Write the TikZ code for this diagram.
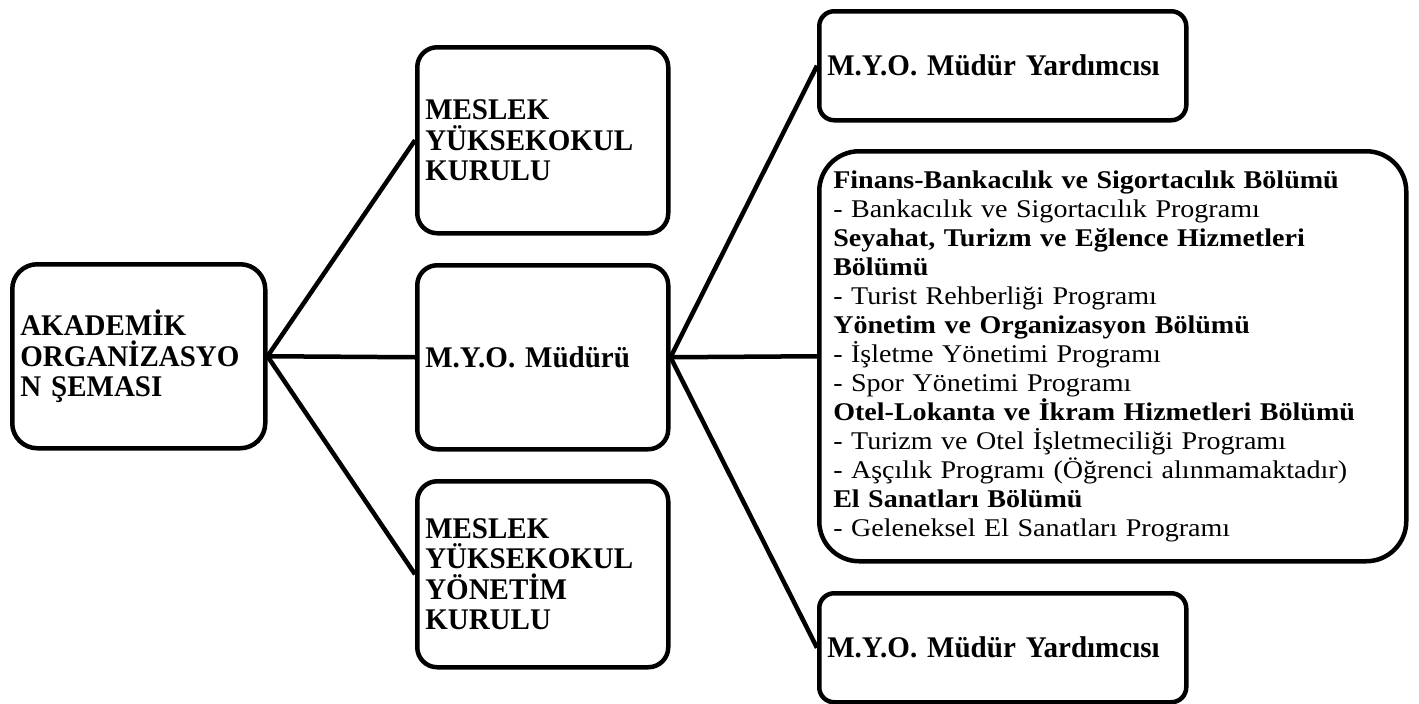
\documentclass[tikz,border=0pt]{standalone}
\usepackage{fontspec}
\setmainfont{Liberation Serif}
\newfontfamily\boxfont[FakeStretch=0.967]{Liberation Serif}
\newfontfamily\widefont[FakeStretch=1.1]{Liberation Serif}
\begin{document}
\begin{tikzpicture}[x=1pt,y=-1pt,
  box/.style={draw, line width=4.5pt, rounded corners=#1, anchor=north west, align=left,
    inner xsep=8pt, inner ysep=0pt, font=\boxfont\fontsize{30}{30.5}\selectfont\bfseries},
  box/.default=20pt,
  bigbox/.style={draw, line width=4.5pt, rounded corners=40pt, anchor=north west, align=left,
    inner xsep=14pt, inner ysep=0pt, font=\widefont\fontsize{25.5}{29}\selectfont},
  link/.style={line width=4.5pt}]
\useasboundingbox (0,0) rectangle (1419,704);
\node[box=25pt, text width=237pt, minimum height=184pt] (ak) at (10,262) {AKADEMİK\\ORGANİZASYO\\N ŞEMASI};
\node[box, text width=235pt, minimum height=186pt] (mk) at (415,45) {MESLEK\\YÜKSEKOKUL\\KURULU};
\node[box, text width=235pt, minimum height=184pt] (md) at (415,263) {M.Y.O. Müdürü};
\node[box, text width=235pt, minimum height=186pt] (yk) at (415,479) {MESLEK\\YÜKSEKOKUL\\YÖNETİM\\KURULU};
\node[box=15pt, text width=351pt, minimum height=109pt] (y1) at (817,9) {M.Y.O. Müdür Yardımcısı};
\node[bigbox, text width=559pt, minimum height=410pt] (bb) at (817,149) {%
\textbf{Finans-Bankacılık ve Sigortacılık Bölümü}\\
- Bankacılık ve Sigortacılık Programı\\
\textbf{Seyahat, Turizm ve Eğlence Hizmetleri}\\
\textbf{Bölümü}\\
- Turist Rehberliği Programı\\
\textbf{Yönetim ve Organizasyon Bölümü}\\
- İşletme Yönetimi Programı\\
- Spor Yönetimi Programı\\
\textbf{Otel-Lokanta ve İkram Hizmetleri Bölümü}\\
- Turizm ve Otel İşletmeciliği Programı\\
- Aşçılık Programı (Öğrenci alınmamaktadır)\\
\textbf{El Sanatları Bölümü}\\
- Geleneksel El Sanatları Programı};
\node[box=15pt, text width=351pt, minimum height=109pt] (y2) at (817,591) {M.Y.O. Müdür Yardımcısı};
\draw[link] (ak.east) -- (mk.west);
\draw[link] (ak.east) -- (md.west);
\draw[link] (ak.east) -- (yk.west);
\draw[link] (md.east) -- (y1.west);
\draw[link] (md.east) -- (bb.west);
\draw[link] (md.east) -- (y2.west);
\end{tikzpicture}
\end{document}
